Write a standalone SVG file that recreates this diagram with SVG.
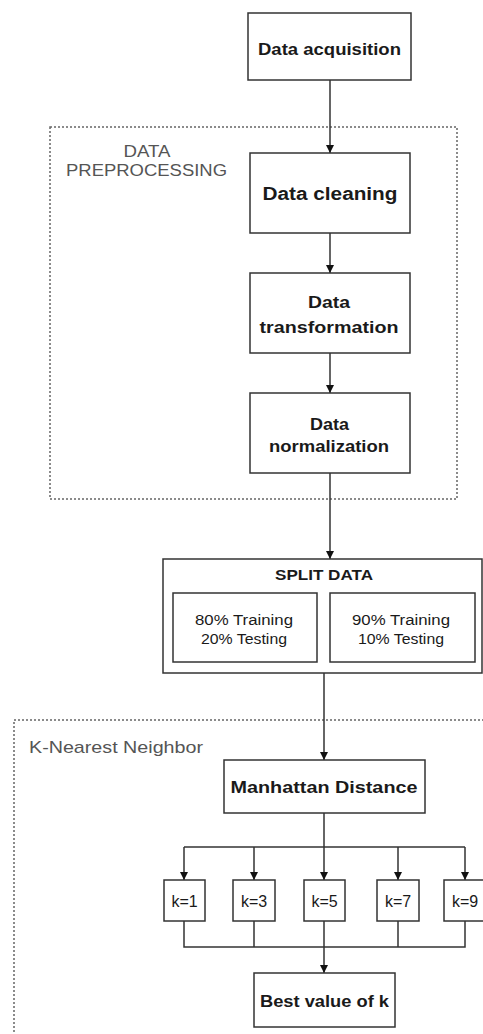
<svg xmlns="http://www.w3.org/2000/svg" width="483" height="1034" viewBox="0 0 483 1034">
<style>
.box{fill:#fff;stroke:#333;stroke-width:1.5}
.grp{fill:none;stroke:#666;stroke-width:1.5;stroke-dasharray:2 2}
.t{font-family:"Liberation Sans",Arial,sans-serif;fill:#1a1a1a;text-anchor:middle}
.b{font-weight:bold}
.lbl{font-family:"Liberation Sans",Arial,sans-serif;fill:#555}
.ln{fill:none;stroke:#333;stroke-width:1.5}
</style>
<defs>
<marker id="ah" viewBox="0 0 10 10" refX="10" refY="5" markerWidth="8" markerHeight="8" markerUnits="userSpaceOnUse" orient="auto">
<path d="M0,0 L10,5 L0,10 z" fill="#111"/>
</marker>
</defs>
<g id="preprocessing-group">
<rect class="grp" x="50" y="127" width="407" height="372"/>
<text class="lbl" font-size="16" x="147" y="157" text-anchor="middle" textLength="47" lengthAdjust="spacingAndGlyphs">DATA</text>
<text class="lbl" font-size="16" x="66" y="176" textLength="161" lengthAdjust="spacingAndGlyphs">PREPROCESSING</text>
</g>
<g id="knn-group">
<rect class="grp" x="14" y="720" width="500" height="400"/>
<text class="lbl" font-size="17" x="29" y="753" textLength="174" lengthAdjust="spacingAndGlyphs">K-Nearest Neighbor</text>
</g>
<g id="connectors">
<line class="ln" x1="330" y1="80" x2="330" y2="153" marker-end="url(#ah)"/>
<line class="ln" x1="330" y1="233" x2="330" y2="273" marker-end="url(#ah)"/>
<line class="ln" x1="330" y1="353" x2="330" y2="393" marker-end="url(#ah)"/>
<line class="ln" x1="330" y1="473" x2="330" y2="559" marker-end="url(#ah)"/>
<line class="ln" x1="324" y1="673" x2="324" y2="760" marker-end="url(#ah)"/>
<line class="ln" x1="324" y1="813" x2="324" y2="847"/>
<line class="ln" x1="184" y1="847" x2="465" y2="847"/>
<line class="ln" x1="184" y1="847" x2="184" y2="880" marker-end="url(#ah)"/>
<line class="ln" x1="254" y1="847" x2="254" y2="880" marker-end="url(#ah)"/>
<line class="ln" x1="324" y1="847" x2="324" y2="880" marker-end="url(#ah)"/>
<line class="ln" x1="398" y1="847" x2="398" y2="880" marker-end="url(#ah)"/>
<line class="ln" x1="465" y1="847" x2="465" y2="880" marker-end="url(#ah)"/>
<path class="ln" d="M184,921 V947 H465 V921 M254,921 V947 M398,921 V947"/>
<line class="ln" x1="324" y1="921" x2="324" y2="973" marker-end="url(#ah)"/>
</g>
<g id="data-acquisition">
<rect class="box" x="248" y="13" width="163" height="67"/>
<text class="t b" font-size="17" x="329.5" y="55" textLength="143" lengthAdjust="spacingAndGlyphs">Data acquisition</text>
</g>
<g id="data-cleaning">
<rect class="box" x="250" y="153" width="160" height="80"/>
<text class="t b" font-size="18" x="330" y="200" textLength="135" lengthAdjust="spacingAndGlyphs">Data cleaning</text>
</g>
<g id="data-transformation">
<rect class="box" x="250" y="273" width="160" height="80"/>
<text class="t b" font-size="17" x="329" y="308" textLength="42" lengthAdjust="spacingAndGlyphs">Data</text>
<text class="t b" font-size="17" x="329" y="333" textLength="139" lengthAdjust="spacingAndGlyphs">transformation</text>
</g>
<g id="data-normalization">
<rect class="box" x="250" y="393" width="160" height="80"/>
<text class="t b" font-size="17" x="329.5" y="430" textLength="39" lengthAdjust="spacingAndGlyphs">Data</text>
<text class="t b" font-size="17" x="329" y="452" textLength="120" lengthAdjust="spacingAndGlyphs">normalization</text>
</g>
<g id="split-data">
<rect class="box" x="163" y="559" width="319" height="114"/>
<text class="t b" font-size="14" x="324" y="580" textLength="98" lengthAdjust="spacingAndGlyphs">SPLIT DATA</text>
</g>
<g id="split-80-20">
<rect class="box" x="173" y="593" width="144" height="69"/>
<text class="t" font-size="14" x="244" y="625" textLength="98" lengthAdjust="spacingAndGlyphs">80% Training</text>
<text class="t" font-size="14" x="244" y="644" textLength="86" lengthAdjust="spacingAndGlyphs">20% Testing</text>
</g>
<g id="split-90-10">
<rect class="box" x="330" y="593" width="145" height="69"/>
<text class="t" font-size="14" x="401" y="625" textLength="98" lengthAdjust="spacingAndGlyphs">90% Training</text>
<text class="t" font-size="14" x="401" y="644" textLength="86" lengthAdjust="spacingAndGlyphs">10% Testing</text>
</g>
<g id="manhattan-distance">
<rect class="box" x="224" y="760" width="201" height="53"/>
<text class="t b" font-size="17" x="324" y="793" textLength="187" lengthAdjust="spacingAndGlyphs">Manhattan Distance</text>
</g>
<g id="k1">
<rect class="box" x="164" y="880" width="41" height="41"/>
<text class="t" font-size="16" x="184.5" y="907">k=1</text>
</g>
<g id="k3">
<rect class="box" x="233" y="880" width="42" height="41"/>
<text class="t" font-size="16" x="254" y="907">k=3</text>
</g>
<g id="k5">
<rect class="box" x="304" y="880" width="41" height="41"/>
<text class="t" font-size="16" x="324.5" y="907">k=5</text>
</g>
<g id="k7">
<rect class="box" x="377" y="880" width="42" height="41"/>
<text class="t" font-size="16" x="398" y="907">k=7</text>
</g>
<g id="k9">
<rect class="box" x="444" y="880" width="42" height="41"/>
<text class="t" font-size="16" x="465" y="907">k=9</text>
</g>
<g id="best-k">
<rect class="box" x="254" y="973" width="141" height="54"/>
<text class="t b" font-size="16" x="324.5" y="1007" textLength="129" lengthAdjust="spacingAndGlyphs">Best value of k</text>
</g>
</svg>
